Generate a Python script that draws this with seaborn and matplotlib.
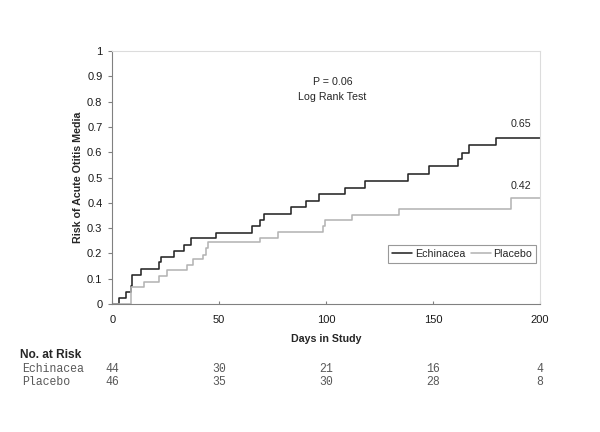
import matplotlib
matplotlib.use("Agg")
import matplotlib.pyplot as plt
import matplotlib.transforms as mtransforms
import seaborn as sns
import pandas as pd

# ---- data ----
echinacea_days = [0, 3.3, 6.4, 8.8, 9.4, 13.5, 21.9, 22.8, 28.9, 33.6, 36.9, 48.3, 65.2, 69.0, 70.9,
                  83.5, 90.7, 96.5, 108.8, 118.0, 138.3, 148.2, 161.5, 163.6, 166.7, 179.6, 200]
echinacea_risk = [0, 0.025, 0.046, 0.072, 0.117, 0.14, 0.165, 0.188, 0.211, 0.234, 0.26, 0.282, 0.307,
                  0.332, 0.357, 0.382, 0.407, 0.435, 0.46, 0.487, 0.513, 0.544, 0.572, 0.598, 0.628,
                  0.655, 0.655]
placebo_days = [0, 8.8, 14.8, 22.0, 25.8, 34.9, 37.9, 42.3, 43.7, 45.0, 69.2, 77.4, 98.6, 99.4,
                111.9, 134.1, 186.5, 200]
placebo_risk = [0, 0.066, 0.086, 0.112, 0.134, 0.153, 0.178, 0.196, 0.221, 0.244, 0.263, 0.285,
                0.308, 0.331, 0.353, 0.374, 0.418, 0.418]

groups = ["Echinacea", "Placebo"]
final_labels = ["0.65", "0.42"]
risk_days = [0, 50, 100, 150, 200]
echinacea_at_risk = ["44", "30", "21", "16", "4"]
placebo_at_risk = ["46", "35", "30", "28", "8"]

sns.set_theme(style="white")
plt.rcParams["font.family"] = ["Liberation Sans", "DejaVu Sans"]

df = pd.concat([
    pd.DataFrame({"day": echinacea_days, "risk": echinacea_risk, "group": groups[0]}),
    pd.DataFrame({"day": placebo_days, "risk": placebo_risk, "group": groups[1]}),
], ignore_index=True)

fig = plt.figure(figsize=(6, 4.32), dpi=100)
ax = fig.add_axes([0.187, 0.296, 0.713, 0.586])

sns.lineplot(data=df, x="day", y="risk", hue="group", hue_order=groups,
             palette={"Echinacea": "#262626", "Placebo": "#b4b4b4"},
             estimator=None, sort=False, drawstyle="steps-post", linewidth=1.15, ax=ax)

ax.set_xlim(0, 200)
ax.set_ylim(0, 1)
ax.set_xticks([0, 50, 100, 150, 200])
ax.set_yticks([i / 10 for i in range(11)])
ax.set_yticklabels(["0"] + [f"{i/10:.1f}" for i in range(1, 10)] + ["1"])
ax.tick_params(axis="x", bottom=True, direction="in", length=2.5, width=0.8, color="#808080",
               labelsize=8, pad=7.5, labelcolor="#1a1a1a")
ax.tick_params(axis="y", left=True, direction="out", length=3, width=0.8, color="#808080",
               labelsize=8, pad=4, labelcolor="#1a1a1a")
for s in ["top", "right"]:
    ax.spines[s].set_color("#dcdcdc")
    ax.spines[s].set_linewidth(0.8)
for s in ["left", "bottom"]:
    ax.spines[s].set_color("#808080")
    ax.spines[s].set_linewidth(0.8)

ax.set_xlabel("Days in Study", fontsize=7.7, fontweight="bold", labelpad=6.5)
ax.set_ylabel("Risk of Acute Otitis Media", fontsize=7.7, fontweight="bold", labelpad=3)

ax.text(103, 0.877, "P = 0.06", ha="center", va="center", fontsize=7.7)
ax.text(103, 0.818, "Log Rank Test", ha="center", va="center", fontsize=7.7)
ax.text(191, 0.71, final_labels[0], ha="center", va="center", fontsize=7.7)
ax.text(191, 0.466, final_labels[1], ha="center", va="center", fontsize=7.7)

leg = ax.legend(loc="center", bbox_to_anchor=(0.818, 0.198), ncol=2, frameon=True,
                fontsize=7.7, handlelength=1.9, columnspacing=0.5, handletextpad=0.25,
                borderpad=0.35, fancybox=False, title=None)
leg.get_frame().set_edgecolor("#808080")
leg.get_frame().set_linewidth(0.8)

# number at risk table
trans = mtransforms.blended_transform_factory(ax.transData, fig.transFigure)
fig.text(20 / 600, 1 - 355 / 432, "No. at Risk", fontsize=8.6, fontweight="bold", va="center")
mono = dict(fontsize=8.3, family="Liberation Mono", va="center", color="#595959")
fig.text(22 / 600, 1 - 369 / 432, groups[0], **mono)
fig.text(22 / 600, 1 - 382 / 432, groups[1], **mono)
for d, e, p in zip(risk_days, echinacea_at_risk, placebo_at_risk):
    ax.text(d, 1 - 369 / 432, e, transform=trans, ha="center", **mono)
    ax.text(d, 1 - 382 / 432, p, transform=trans, ha="center", **mono)

fig.savefig("out.png", dpi=100)
